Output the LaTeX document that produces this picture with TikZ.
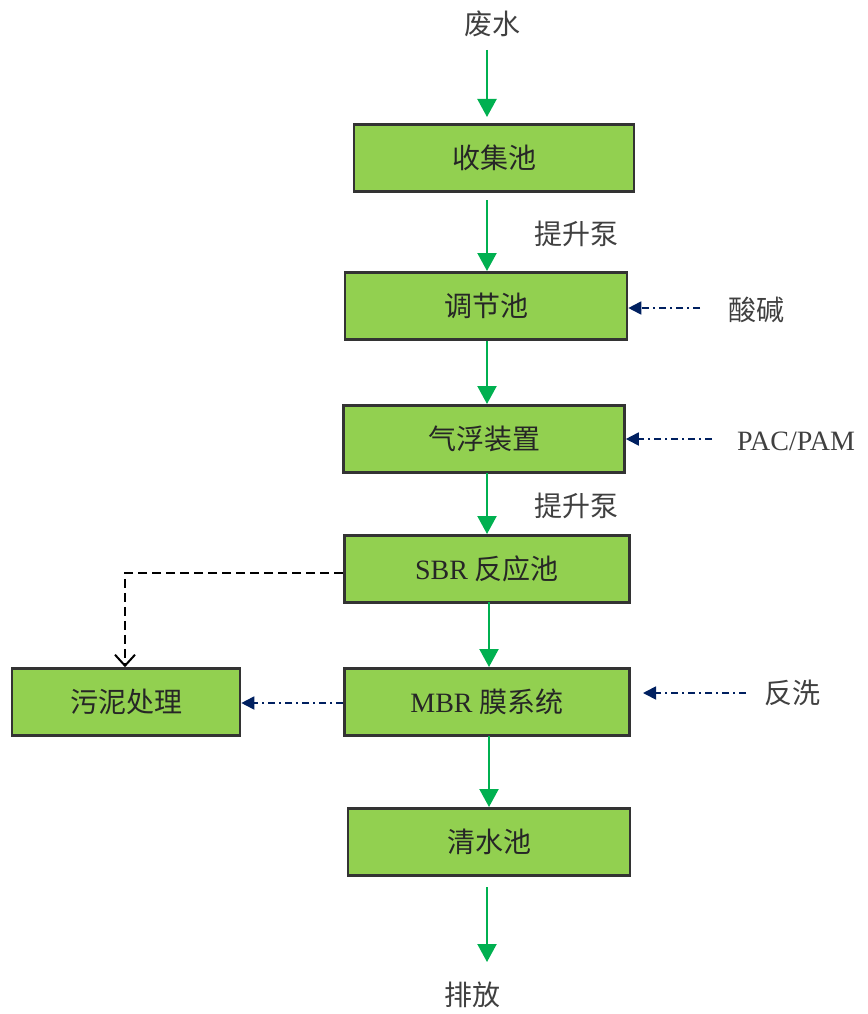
\documentclass[tikz,border=0pt]{standalone}
\usepackage{fontspec}
\setmainfont{Liberation Serif}
\newfontfamily\cjk{Noto Sans CJK SC}
\usetikzlibrary{arrows.meta}
\definecolor{boxgreen}{HTML}{92D050}
\definecolor{arrgreen}{HTML}{00B050}
\definecolor{navyc}{HTML}{002060}
\begin{document}
\begin{tikzpicture}[x=1pt,y=-1pt,
  stepbox/.style={draw=black!80,line width=2.6pt,fill=boxgreen,minimum height=67pt,inner sep=0pt,font=\fontsize{28}{30}\selectfont,text=black!85},
  lbl/.style={inner sep=0pt,font=\fontsize{28}{30}\selectfont,text=black!75},
  flow/.style={draw=arrgreen,line width=2.2pt,-{Triangle[length=18pt,width=19pt]}},
  dose/.style={draw=navyc,line width=1.8pt,dash pattern=on 7pt off 4pt on 2pt off 4pt,-{Triangle[length=13pt,width=13pt]}},
  sludge/.style={draw=black,line width=2.6pt,dash pattern=on 9pt off 5pt,-{Straight Barb[length=11pt,width=20pt,line width=2pt]}}]
\useasboundingbox (0,0) rectangle (867,1014);
\node[lbl] (in) at (492,24) {\cjk 废水};
\node[stepbox,minimum width=280pt] (b1) at (494,158) {\cjk 收集池};
\node[stepbox,minimum width=282pt] (b2) at (486,306) {\cjk 调节池};
\node[stepbox,minimum width=281pt] (b3) at (484,439) {\cjk 气浮装置};
\node[stepbox,minimum width=285pt] (b4) at (487,569) {SBR {\cjk 反应池}};
\node[stepbox,minimum width=285pt] (b5) at (487,702) {MBR {\cjk 膜系统}};
\node[stepbox,minimum width=228pt] (b6) at (126,702) {\cjk 污泥处理};
\node[stepbox,minimum width=282pt] (b7) at (489,842) {\cjk 清水池};
\node[lbl] (out) at (472,995) {\cjk 排放};
\node[lbl] (p1) at (576,234) {\cjk 提升泵};
\node[lbl] (p2) at (576,506) {\cjk 提升泵};
\node[lbl] (ab) at (756,310) {\cjk 酸碱};
\node[lbl] (pac) at (796,441) {PAC/PAM};
\node[lbl] (fx) at (792,693) {\cjk 反洗};
\coordinate (c1) at (125,573);
\coordinate (s2) at (700,308);
\coordinate (s3) at (712,439);
\coordinate (s5) at (746,693);
\coordinate (e5) at (643,693);
\draw[flow] (487,50) -- (487,117);
\draw[flow] (487,200) -- (487,271);
\draw[flow] (487,341) -- (487,404);
\draw[flow] (487,473) -- (487,534);
\draw[flow] (489,602) -- (489,667);
\draw[flow] (489,736) -- (489,807);
\draw[flow] (487,887) -- (487,962);
\draw[dose] (s2) -- (b2.east |- s2);
\draw[dose] (s3) -- (b3.east |- s3);
\draw[dose] (s5) -- (e5);
\draw[dose] (b5.west |- 0,703) -- (b6.east |- 0,703);
\draw[sludge] (b4.west |- c1) -- (c1) -- (c1 |- b6.north);
\end{tikzpicture}
\end{document}
